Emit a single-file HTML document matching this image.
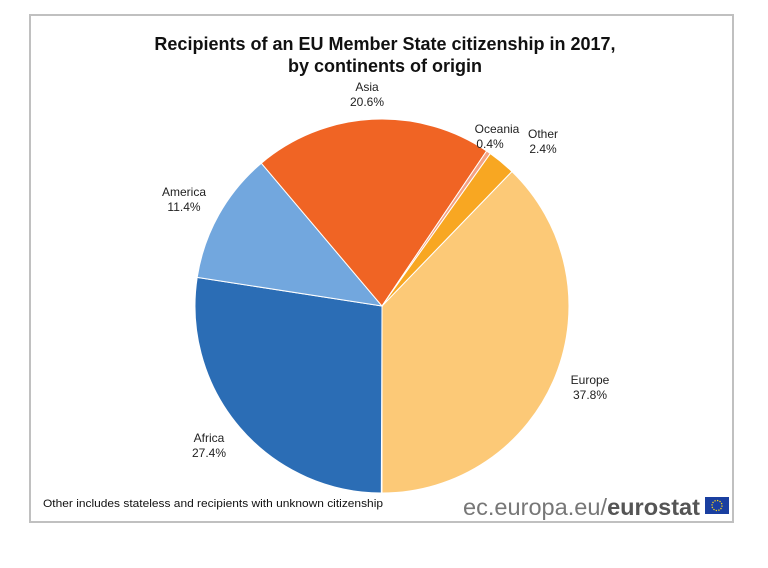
<!DOCTYPE html>
<html><head><meta charset="utf-8"><style>
body{margin:0;background:#fff;width:768px;height:568px;overflow:hidden}
svg{display:block}
text{font-family:"Liberation Sans",sans-serif}
</style></head><body>
<svg width="768" height="568" viewBox="0 0 768 568">
<rect x="30" y="15" width="703" height="507" fill="#fff" stroke="#c0c0c0" stroke-width="2"/>
<text x="385" y="50" text-anchor="middle" font-size="18" font-weight="bold" fill="#111">Recipients of an EU Member State citizenship in 2017,</text>
<text x="385" y="72" text-anchor="middle" font-size="18" font-weight="bold" fill="#111">by continents of origin</text>
<g stroke="#fff" stroke-width="1">
<path d="M382,306 L511.9,171.5 A187,187 0 0 1 382,493 Z" fill="#fcc977"/>
<path d="M382,306 L381.3,493 A187,187 0 0 1 197.2,277.4 Z" fill="#2b6db5"/>
<path d="M382,306 L197.2,277.4 A187,187 0 0 1 261.3,163.2 Z" fill="#72a7de"/>
<path d="M382,306 L261.3,163.2 A187,187 0 0 1 486.6,151 Z" fill="#f06424"/>
<path d="M382,306 L486.6,151 A187,187 0 0 1 490.3,153.6 Z" fill="#f4a283"/>
<path d="M382,306 L490.3,153.6 A187,187 0 0 1 511.9,171.5 Z" fill="#f8a722"/>
</g>
<g font-size="12" fill="#222" text-anchor="middle">
<text x="367" y="91">Asia</text><text x="367" y="106">20.6%</text>
<text x="497" y="133">Oceania</text><text x="490" y="148">0.4%</text>
<text x="543" y="138">Other</text><text x="543" y="153">2.4%</text>
<text x="184" y="196">America</text><text x="184" y="211">11.4%</text>
<text x="590" y="384">Europe</text><text x="590" y="399">37.8%</text>
<text x="209" y="442">Africa</text><text x="209" y="457">27.4%</text>
</g>
<text x="43" y="507" font-size="11" fill="#111" textLength="340" lengthAdjust="spacingAndGlyphs">Other includes stateless and recipients with unknown citizenship</text>
<text x="700" y="515" text-anchor="end" font-size="23" fill="#777" textLength="237" lengthAdjust="spacingAndGlyphs">ec.europa.eu/<tspan font-weight="bold" fill="#555">eurostat</tspan></text>
<rect x="705" y="497" width="24" height="17" fill="#1a3fa0"/>
<circle cx="717" cy="505.5" r="5" fill="none" stroke="#f4d21f" stroke-width="1.3" stroke-dasharray="1.3 1.3"/>
</svg>
</body></html>
